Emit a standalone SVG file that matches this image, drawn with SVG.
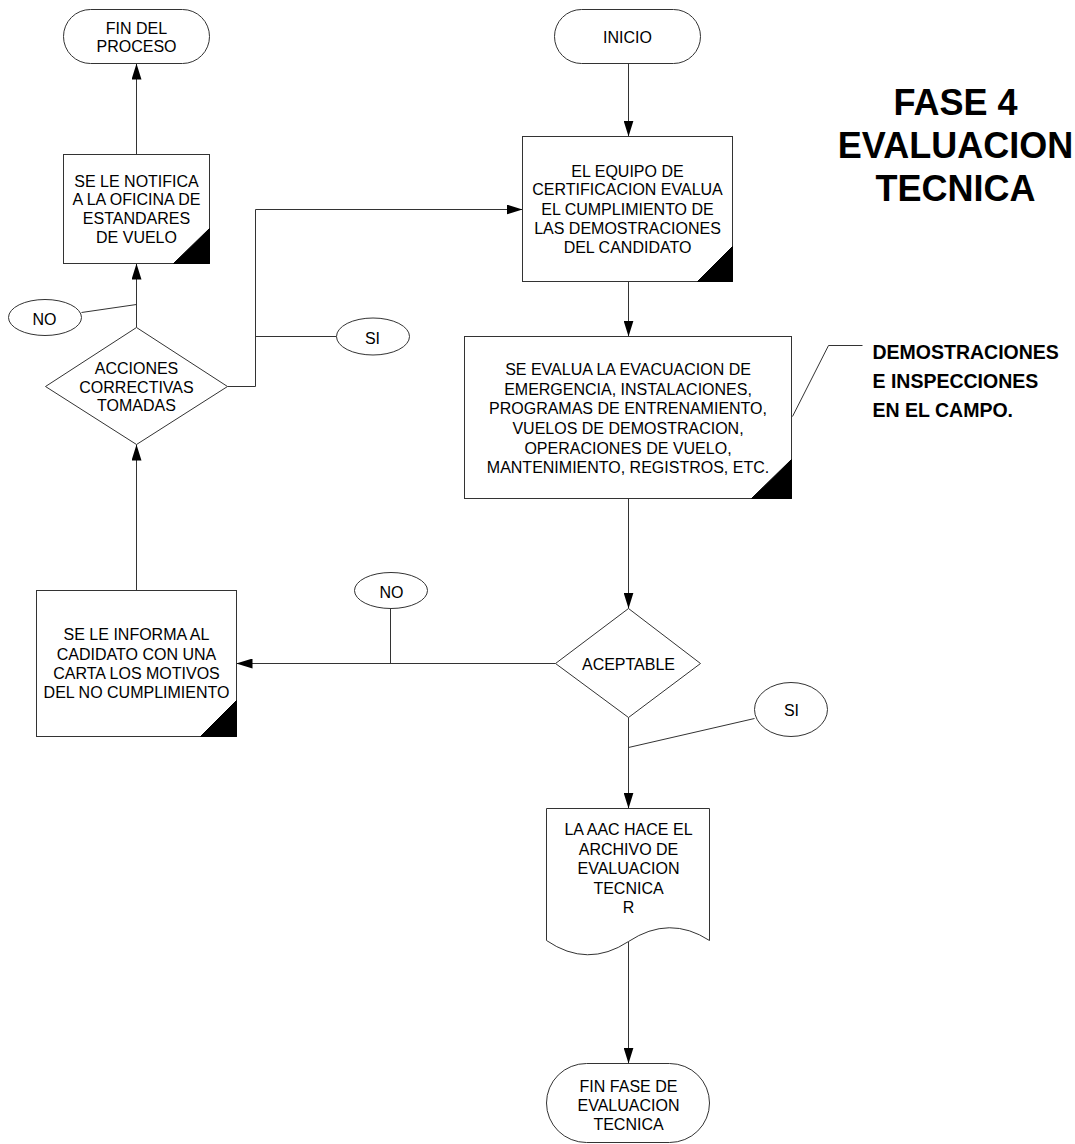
<svg xmlns="http://www.w3.org/2000/svg" width="1075" height="1144" viewBox="0 0 1075 1144">
<defs>
<marker id="arr" viewBox="0 0 16 10" refX="16" refY="5" markerWidth="16" markerHeight="10" markerUnits="userSpaceOnUse" orient="auto">
<path d="M0,0 L16,5 L0,10 z" fill="#000"/>
</marker>
<style>
.shape{fill:#fff;stroke:#333;stroke-width:1}
.corner{fill:#000;stroke:#000;stroke-width:1}
.conn{fill:none;stroke:#333;stroke-width:1}
.arrow{fill:none;stroke:#333;stroke-width:1;marker-end:url(#arr)}
.t{font-family:"Liberation Sans",Arial,sans-serif;font-size:16px;fill:#000;text-anchor:middle}
.title{font-family:"Liberation Sans",Arial,sans-serif;font-size:36px;font-weight:bold;fill:#000;text-anchor:middle}
.note{font-family:"Liberation Sans",Arial,sans-serif;font-size:19.5px;font-weight:bold;fill:#000}
</style>
</defs>
<rect x="0" y="0" width="1075" height="1144" fill="#fff"/>
<g transform="translate(0.5 0.5)">
<g id="connectors">
<line class="arrow" x1="136" y1="154" x2="136" y2="63"/>
<line class="arrow" x1="136" y1="327" x2="136" y2="263"/>
<line class="arrow" x1="136" y1="590" x2="136" y2="444"/>
<polyline class="arrow" points="227,386 255,386 255,209 522,209"/>
<line class="arrow" x1="628" y1="63" x2="628" y2="136"/>
<line class="arrow" x1="628" y1="281" x2="628" y2="336"/>
<line class="arrow" x1="628" y1="498" x2="628" y2="608"/>
<line class="arrow" x1="555" y1="663" x2="236" y2="663"/>
<line class="arrow" x1="628" y1="717" x2="628" y2="808"/>
<line class="arrow" x1="628" y1="941" x2="628" y2="1063"/>
<line class="conn" x1="81" y1="312" x2="136" y2="304"/>
<line class="conn" x1="255" y1="336" x2="336" y2="336"/>
<line class="conn" x1="390" y1="608" x2="390" y2="663"/>
<line class="conn" x1="754" y1="718" x2="628" y2="747"/>
<polyline class="conn" points="792,416 828,345 862,345"/>
</g>
<g id="fin-proceso">
<rect class="shape" x="63" y="9" width="146" height="54" rx="27" ry="27"/>
<text class="t" x="136" y="33">FIN DEL</text>
<text class="t" x="136" y="51">PROCESO</text>
</g>
<g id="notifica">
<rect class="shape" x="63" y="154" width="146" height="109"/>
<polygon class="corner" points="173,263 209,263 209,228"/>
<text class="t" x="136" y="186">SE LE NOTIFICA</text>
<text class="t" x="136" y="204">A LA OFICINA DE</text>
<text class="t" x="136" y="223">ESTANDARES</text>
<text class="t" x="136" y="242">DE VUELO</text>
</g>
<g id="no-1">
<ellipse class="shape" cx="44.5" cy="317" rx="36.5" ry="18"/>
<text class="t" x="44" y="324">NO</text>
</g>
<g id="acciones">
<polygon class="shape" points="136,327 227,386 136,444 45,386"/>
<text class="t" x="136" y="373">ACCIONES</text>
<text class="t" x="136" y="392">CORRECTIVAS</text>
<text class="t" x="136" y="410">TOMADAS</text>
</g>
<g id="si-1">
<ellipse class="shape" cx="372.5" cy="336" rx="36.5" ry="18.5"/>
<text class="t" x="372" y="343">SI</text>
</g>
<g id="informa">
<rect class="shape" x="36" y="590" width="200" height="146"/>
<polygon class="corner" points="200,736 236,736 236,700"/>
<text class="t" x="136" y="639">SE LE INFORMA AL</text>
<text class="t" x="136" y="659">CADIDATO CON UNA</text>
<text class="t" x="136" y="678">CARTA LOS MOTIVOS</text>
<text class="t" x="136" y="697">DEL NO CUMPLIMIENTO</text>
</g>
<g id="no-2">
<ellipse class="shape" cx="390.5" cy="590" rx="36.5" ry="18"/>
<text class="t" x="391" y="597">NO</text>
</g>
<g id="inicio">
<rect class="shape" x="554" y="9" width="146" height="54" rx="27" ry="27"/>
<text class="t" x="627" y="42">INICIO</text>
</g>
<g id="equipo">
<rect class="shape" x="522" y="136" width="210" height="145"/>
<polygon class="corner" points="697,281 732,281 732,246"/>
<text class="t" x="627" y="176">EL EQUIPO DE</text>
<text class="t" x="627" y="194">CERTIFICACION EVALUA</text>
<text class="t" x="627" y="214">EL CUMPLIMIENTO DE</text>
<text class="t" x="627" y="233">LAS DEMOSTRACIONES</text>
<text class="t" x="627" y="252">DEL CANDIDATO</text>
</g>
<g id="evalua">
<rect class="shape" x="464" y="336" width="327" height="162"/>
<polygon class="corner" points="751,498 791,498 791,459"/>
<text class="t" x="627.5" y="374">SE EVALUA LA EVACUACION DE</text>
<text class="t" x="627.5" y="394">EMERGENCIA, INSTALACIONES,</text>
<text class="t" x="627.5" y="413">PROGRAMAS DE ENTRENAMIENTO,</text>
<text class="t" x="627.5" y="433">VUELOS DE DEMOSTRACION,</text>
<text class="t" x="627.5" y="453">OPERACIONES DE VUELO,</text>
<text class="t" x="627.5" y="472">MANTENIMIENTO, REGISTROS, ETC.</text>
</g>
<g id="titulo">
<text class="title" x="955" y="114">FASE 4</text>
<text class="title" x="955" y="157">EVALUACION</text>
<text class="title" x="955" y="200">TECNICA</text>
</g>
<g id="nota">
<text class="note" x="872" y="358">DEMOSTRACIONES</text>
<text class="note" x="872" y="387">E INSPECCIONES</text>
<text class="note" x="872" y="416">EN EL CAMPO.</text>
</g>
<g id="aceptable">
<polygon class="shape" points="628,608 700,663 628,717 555,663"/>
<text class="t" x="628" y="669">ACEPTABLE</text>
</g>
<g id="si-2">
<ellipse class="shape" cx="790.5" cy="709" rx="36.5" ry="27"/>
<text class="t" x="791" y="715">SI</text>
</g>
<g id="archivo">
<path class="shape" d="M546,808 L709,808 L709,940 Q669,914 628,941 Q587,968 546,940 Z"/>
<text class="t" x="628" y="834">LA AAC HACE EL</text>
<text class="t" x="628" y="854">ARCHIVO DE</text>
<text class="t" x="628" y="873">EVALUACION</text>
<text class="t" x="628" y="893">TECNICA</text>
<text class="t" x="628" y="912">R</text>
</g>
<g id="fin-fase">
<rect class="shape" x="546" y="1063" width="163" height="79" rx="40" ry="39.5"/>
<text class="t" x="628" y="1091">FIN FASE DE</text>
<text class="t" x="628" y="1110">EVALUACION</text>
<text class="t" x="628" y="1129">TECNICA</text>
</g>
</g>
</svg>
